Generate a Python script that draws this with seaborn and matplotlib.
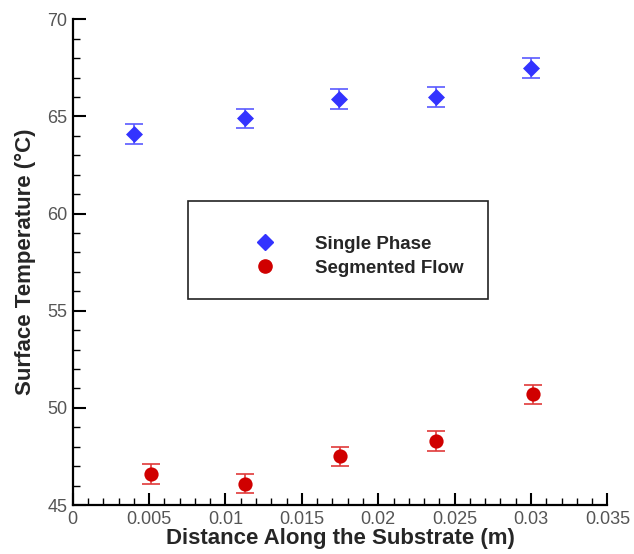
import matplotlib
matplotlib.use("Agg")
import matplotlib.pyplot as plt
import seaborn as sns
import pandas as pd
import numpy as np
from matplotlib.ticker import MultipleLocator, FuncFormatter
from matplotlib.patches import Rectangle
from matplotlib.lines import Line2D

# Data
sp_x = [0.0040, 0.0113, 0.0174, 0.0238, 0.0300]
sp_y = [64.1, 64.9, 65.9, 66.0, 67.5]
sp_err = [0.5, 0.5, 0.5, 0.5, 0.5]
sf_x = [0.0051, 0.0113, 0.0175, 0.0238, 0.0301]
sf_y = [46.6, 46.1, 47.5, 48.3, 50.7]
sf_err = [0.5, 0.5, 0.5, 0.5, 0.5]
series = ["Single Phase", "Segmented Flow"]

sp_df = pd.DataFrame({"x": sp_x, "y": sp_y})
sf_df = pd.DataFrame({"x": sf_x, "y": sf_y})

sns.set_style("ticks")
plt.rcParams['font.family'] = ['Liberation Sans', 'DejaVu Sans']

fig = plt.figure(figsize=(6.34, 5.54), dpi=100)
ax = fig.add_axes([0.1147, 0.0884, 0.8433, 0.8768])

blue = "#3333ff"
red = "#d00000"
ax.errorbar(sp_x, sp_y, yerr=sp_err, fmt='none', ecolor="#5a5aff", elinewidth=1.2,
            capsize=6.5, capthick=1.2, zorder=2)
ax.errorbar(sf_x, sf_y, yerr=sf_err, fmt='none', ecolor="#e03a3a", elinewidth=1.2,
            capsize=6.5, capthick=1.2, zorder=2)

sns.scatterplot(data=sp_df, x="x", y="y", color=blue, marker="D",
                s=75, linewidth=0, ax=ax, zorder=3, legend=False)
sns.scatterplot(data=sf_df, x="x", y="y", color=red, marker="o",
                s=105, linewidth=0, ax=ax, zorder=3, legend=False)

handles = [Line2D([], [], marker="D", color=blue, ls="none", ms=8),
           Line2D([], [], marker="o", color=red, ls="none", ms=9.5)]
leg = ax.legend(handles, series, loc="center left", bbox_to_anchor=(0.31, 0.512),
                frameon=False, handletextpad=2.2, labelspacing=0.35,
                prop={"weight": "bold", "size": 13.5}, handlelength=1.0)
ax.add_patch(Rectangle((0.215, 0.424), 0.562, 0.202, transform=ax.transAxes,
                       fill=False, edgecolor="#222222", linewidth=1.2, zorder=1))

ax.set_xlim(0, 0.035)
ax.set_ylim(45, 70)
ax.xaxis.set_major_locator(MultipleLocator(0.005))
ax.xaxis.set_minor_locator(MultipleLocator(0.001))
ax.yaxis.set_major_locator(MultipleLocator(5))
ax.yaxis.set_minor_locator(MultipleLocator(1))
ax.xaxis.set_major_formatter(FuncFormatter(lambda v, p: "%g" % round(v, 4)))
ax.yaxis.set_major_formatter(FuncFormatter(lambda v, p: "%g" % v))

sns.despine(ax=ax)
for s in ["left", "bottom"]:
    ax.spines[s].set_linewidth(1.6)
    ax.spines[s].set_color("black")
ax.tick_params(which="major", direction="in", length=9, width=1.5, labelsize=13,
               labelcolor="#555555", color="black", pad=4)
ax.tick_params(which="minor", direction="in", length=5, width=1.0, color="black")

ax.set_xlabel("Distance Along the Substrate (m)", fontsize=16, fontweight="bold", labelpad=0)
ax.set_ylabel("Surface Temperature (\u00b0C)", fontsize=16, fontweight="bold", labelpad=8)

fig.savefig("out.png", dpi=100)
